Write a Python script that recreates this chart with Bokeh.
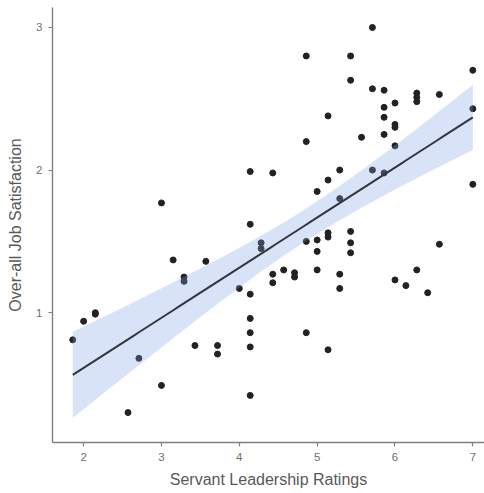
import numpy as np
from bokeh.plotting import figure
from bokeh.models import FixedTicker, Range1d
from bokeh.embed import file_html
from bokeh.resources import INLINE

# Servant Leadership Ratings (x) and Over-all Job Satisfaction (y)
leadership = [1.86, 2.0, 2.15, 2.15, 2.57, 2.71, 3.0, 3.0, 3.15, 3.29, 3.29, 3.43, 3.57,
              3.72, 3.72, 4.0, 4.14, 4.14, 4.14, 4.14, 4.14, 4.14, 4.14, 4.28, 4.28,
              4.43, 4.43, 4.43, 4.57, 4.71, 4.71, 4.86, 4.86, 4.86, 4.86, 5.0, 5.0, 5.0,
              5.0, 5.14, 5.14, 5.14, 5.14, 5.14, 5.29, 5.29, 5.29, 5.29, 5.43, 5.43, 5.43,
              5.43, 5.43, 5.57, 5.71, 5.71, 5.71, 5.86, 5.86, 5.86, 5.86, 5.86, 6.0, 6.0,
              6.0, 6.0, 6.0, 6.14, 6.28, 6.28, 6.28, 6.28, 6.42, 6.57, 6.57, 7.0, 7.0, 7.0]
satisfaction = [0.81, 0.94, 1.0, 0.99, 0.30, 0.68, 1.77, 0.49, 1.37, 1.25, 1.22, 0.77, 1.36,
                0.77, 0.71, 1.17, 1.99, 1.62, 1.13, 0.96, 0.86, 0.76, 0.42, 1.49, 1.45,
                1.98, 1.27, 1.21, 1.30, 1.28, 1.25, 2.80, 2.20, 1.50, 0.86, 1.85, 1.51, 1.43,
                1.30, 2.38, 1.93, 1.56, 1.53, 0.74, 2.0, 1.80, 1.27, 1.17, 2.80, 2.63, 1.57,
                1.49, 1.42, 2.23, 3.0, 2.57, 2.0, 2.56, 2.44, 2.37, 2.25, 1.98, 2.47, 2.32,
                2.30, 2.17, 1.23, 1.19, 2.54, 2.51, 2.48, 1.30, 1.14, 2.53, 1.48, 2.70, 2.43, 1.90]
x_ticks = [2, 3, 4, 5, 6, 7]
y_ticks = [1, 2, 3]
x_title = "Servant Leadership Ratings"
y_title = "Over-all Job Satisfaction"

# linear fit with 95% confidence band (as geom_smooth(method = "lm"))
x = np.array(leadership)
y = np.array(satisfaction)
n = len(x)
b1, b0 = np.polyfit(x, y, 1)
resid = y - (b0 + b1 * x)
s = np.sqrt(np.sum(resid ** 2) / (n - 2))
sxx = np.sum((x - x.mean()) ** 2)
t_crit = 1.99
gx = np.linspace(x.min(), x.max(), 80)
gy = b0 + b1 * gx
se = s * np.sqrt(1.0 / n + (gx - x.mean()) ** 2 / sxx)
lo = gy - t_crit * se
hi = gy + t_crit * se

p = figure(width=484, height=493, output_backend="svg", toolbar_location=None,
           x_range=Range1d(1.6, 7.15), y_range=Range1d(0.09, 3.14),
           min_border_left=52, min_border_right=0, min_border_top=7, min_border_bottom=51)
p.outline_line_color = None
p.xgrid.visible = False
p.ygrid.visible = False
p.background_fill_color = "white"
p.border_fill_color = "white"

p.scatter(x, y, size=6, color="#222222")
p.varea(x=gx, y1=lo, y2=hi, fill_color="#7FA2E6", fill_alpha=0.3)
p.line(gx, gy, line_color="#33363d", line_width=2)

for ax in (p.xaxis[0], p.yaxis[0]):
    ax.axis_line_color = "#808080"
    ax.axis_line_width = 1.4
    ax.major_tick_line_color = "#808080"
    ax.major_tick_line_width = 1.2
    ax.major_tick_out = 4
    ax.major_tick_in = 0
    ax.minor_tick_line_color = None
    ax.major_label_text_font = "Liberation Sans"
    ax.major_label_text_font_size = "11.5px"
    ax.major_label_text_color = "#707070"
    ax.axis_label_text_font = "Liberation Sans"
    ax.axis_label_text_font_size = "16px"
    ax.axis_label_text_font_style = "normal"
    ax.axis_label_text_color = "#595959"

p.xaxis.ticker = FixedTicker(ticks=x_ticks)
p.yaxis.ticker = FixedTicker(ticks=y_ticks)
p.xaxis.axis_label = x_title
p.yaxis.axis_label = y_title
p.xaxis.major_label_standoff = 6
p.yaxis.major_label_standoff = 6
p.xaxis.axis_label_standoff = 7
p.yaxis.axis_label_standoff = 9

open("out.html", "w").write(file_html(p, INLINE))
